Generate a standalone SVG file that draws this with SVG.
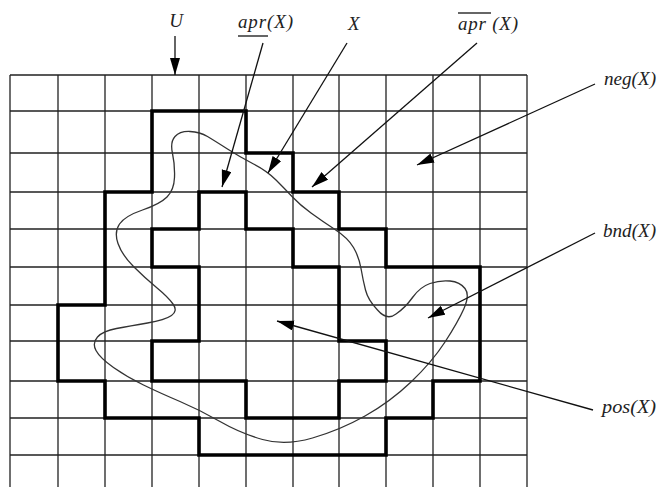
<svg xmlns="http://www.w3.org/2000/svg" width="658" height="487" viewBox="0 0 658 487">
<style>
.grid{stroke:#222;stroke-width:1.3;fill:none}
.thick{stroke:#000;stroke-width:3.6;fill:none;stroke-linejoin:miter;stroke-linecap:square}
.curve{stroke:#333;stroke-width:1.3;fill:none}
.arr{stroke:#111;stroke-width:1.3;fill:none;marker-end:url(#ah)}
.lbl{font-family:"Liberation Serif",serif;font-style:italic;font-size:19px;fill:#222}
.bar{stroke:#333;stroke-width:1.5}
</style>
<defs>
<marker id="ah" markerUnits="userSpaceOnUse" markerWidth="20" markerHeight="12" refX="17" refY="5" orient="auto">
<path d="M0,0 L17,5 L0,10 Z" fill="#000"/>
</marker>
</defs>
<rect width="658" height="487" fill="#fff"/>
<g id="grid">
<path class="grid" d="M10,75V487M58,75V487M105,75V487M152,75V487M199,75V487M246,75V487M293,75V487M339,75V487M386,75V487M433,75V487M480,75V487M527,75V487"/>
<path class="grid" d="M10,75H527M10,111H527M10,153H527M10,192H527M10,229H527M10,267H527M10,305H527M10,341H527M10,381H527M10,418H527M10,455H527"/>
</g>
<g id="upper-approx">
<path class="thick" d="M152,111H246V153H293V192H339V229H386V267H480V381H433V418H386V455H199V418H105V381H58V305H105V192H152Z"/>
</g>
<g id="lower-approx">
<path class="thick" d="M199,192H246V229H293V267H339V341H386V381H339V418H246V381H152V341H199V267H152V229H199Z"/>
</g>
<g id="set-X">
<path class="curve" d="M175,136.5 Q180,131 190,131.5 Q200,132 207.5,136.5 Q215,141 227.5,149 Q240,157 253.5,164 Q267,171 276,180 Q285,189 292.5,197 Q300,205 311,213 Q322,221 335,229.5 Q348,238 353.5,247.5 Q359,257 361,268.5 Q363,280 365.5,290 Q368,300 377.5,310 Q387,321 396,314 Q405,308 412.5,297.5 Q420,287 430,283.5 Q440,280 450,281 Q460,282 465,288.5 Q470,295 464,308.5 Q458,322 445,342 Q432,362 411,382 Q390,402 365,416 Q340,430 312.5,438 Q285,446 262.5,439.5 Q240,433 220,421.5 Q200,410 180,401.5 Q160,393 143.5,385 Q127,377 113.5,367.5 Q100,358 96,350.5 Q92,343 97.5,337 Q103,331 116.5,328.5 Q130,326 147.5,323 Q165,320 171.5,315.5 Q178,311 173,304 Q168,297 156.5,287.5 Q145,278 133.5,266.5 Q122,255 118,243.5 Q114,232 119.5,224 Q125,216 142.5,210 Q160,204 167,197 Q174,190 174.5,177.5 Q175,165 172.5,153.5 Q170,142 175,136.5 Z"/>
</g>
<g id="connectors">
<line class="arr" x1="175" y1="36" x2="175" y2="75"/>
<line class="arr" x1="263" y1="43" x2="222" y2="187"/>
<line class="arr" x1="347" y1="43" x2="268" y2="173"/>
<line class="arr" x1="477" y1="43" x2="312" y2="187"/>
<line class="arr" x1="595" y1="84" x2="417" y2="165"/>
<line class="arr" x1="595" y1="233" x2="428" y2="318"/>
<line class="arr" x1="593" y1="410" x2="277" y2="321"/>
</g>
<g id="label-U"><text class="lbl" x="176" y="27" text-anchor="middle">U</text></g>
<g id="label-lower-apr"><text class="lbl" x="238" y="28" textLength="55" lengthAdjust="spacing">apr(X)</text><line class="bar" x1="238" y1="36" x2="268" y2="36"/></g>
<g id="label-X"><text class="lbl" x="348" y="30">X</text></g>
<g id="label-upper-apr"><text class="lbl" x="458" y="30" textLength="60" lengthAdjust="spacing">apr (X)</text><line class="bar" x1="458" y1="13" x2="491" y2="13"/></g>
<g id="label-neg"><text class="lbl" x="604" y="85" textLength="52" lengthAdjust="spacingAndGlyphs">neg(X)</text></g>
<g id="label-bnd"><text class="lbl" x="603" y="237" textLength="53" lengthAdjust="spacingAndGlyphs">bnd(X)</text></g>
<g id="label-pos"><text class="lbl" x="602" y="413" textLength="54" lengthAdjust="spacingAndGlyphs">pos(X)</text></g>
</svg>
